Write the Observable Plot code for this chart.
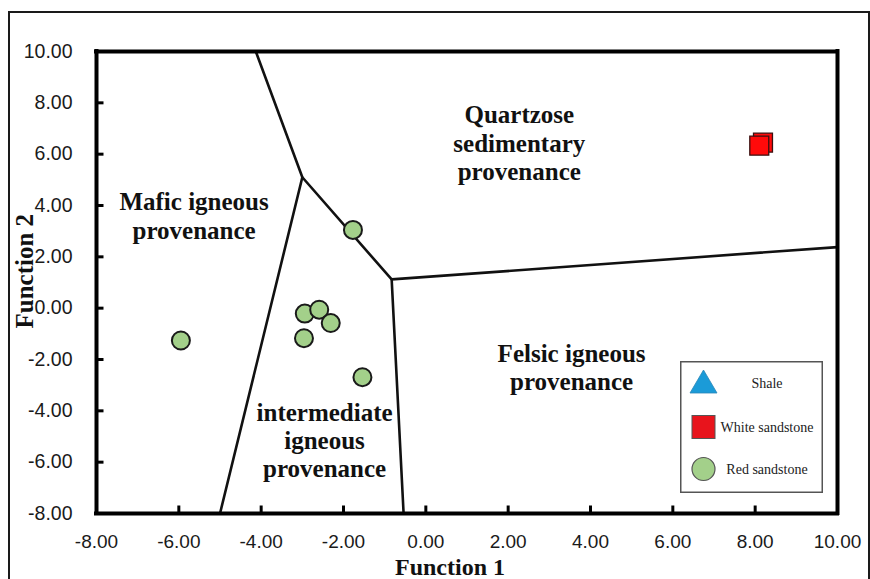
<!DOCTYPE html>
<html>
<head>
<meta charset="utf-8">
<script src="https://cdn.jsdelivr.net/npm/d3@7"></script>
<script src="https://cdn.jsdelivr.net/npm/@observablehq/plot@0.6"></script>
<style>
  body { margin: 0; background: #fff; }
  #wrap { position: relative; width: 870px; height: 579px; overflow: hidden; background: #fff; }
  #outer { position: absolute; left: 8px; top: 11px; width: 858px; height: 600px; border: 2px solid #1a1a1a; pointer-events: none; }
  #legend { position: absolute; left: 680px; top: 361px; }
</style>
</head>
<body>
<div id="wrap">
  <div id="chart"></div>
  <div id="outer"></div>
  <div id="legend"></div>
</div>
<script>
// ---- Data ----
const xTicks = [-8, -6, -4, -2, 0, 2, 4, 6, 8, 10];
const yTicks = [-8, -6, -4, -2, 0, 2, 4, 6, 8, 10];
const xDomain = [-8, 10];
const yDomain = [-8, 10];

// Red sandstone samples (Function 1, Function 2)
const redX = [-5.95, -1.77, -2.94, -2.59, -2.31, -2.96, -1.54];
const redY = [-1.26, 3.05, -0.21, -0.06, -0.58, -1.17, -2.69];

// White sandstone samples
const whiteX = [8.19, 8.10];
const whiteY = [6.45, 6.33];

// Shale samples (none plotted)
const shaleX = [];
const shaleY = [];

// Field boundaries (discriminant diagram)
const boundaryId = ["A", "A", "A", "A", "B", "B", "C", "C"];
const boundaryX = [-4.13, -3.0, -0.83, 10, -5.0, -3.0, -0.83, -0.54];
const boundaryY = [10, 5.1, 1.12, 2.38, -8, 5.1, 1.12, -8];

// Field labels
const fieldLabels = ["Quartzose\nsedimentary\nprovenance", "Mafic igneous\nprovenance", "Felsic igneous\nprovenance", "intermediate\nigneous\nprovenance"];
const fieldLabelX = [2.27, -5.63, 3.54, -2.46];
const fieldLabelY = [6.45, 3.61, -2.28, -5.13];

// Legend
const seriesNames = ["Shale", "White sandstone", "Red sandstone"];
const seriesSymbols = ["triangle", "square", "circle"];
const seriesFill = ["#1b9bd8", "#e8141c", "#a3d08a"];

// ---- Build tables ----
const red = redX.map((x, i) => ({x, y: redY[i]}));
const white = whiteX.map((x, i) => ({x, y: whiteY[i]}));
const shale = shaleX.map((x, i) => ({x, y: shaleY[i]}));
const boundaries = boundaryX.map((x, i) => ({id: boundaryId[i], x, y: boundaryY[i]}));
const labels = fieldLabels.map((t, i) => ({t, x: fieldLabelX[i], y: fieldLabelY[i]}));

const fmt = d => d.toFixed(2);
const serif = "Liberation Serif, Times New Roman, serif";
const sans = "Liberation Sans, Arial, sans-serif";

const W0 = 870, H0 = 579, ML = 96, MR = 33, MT = 51, MB = 66;
const frameW = W0 - ML - MR, frameH = H0 - MT - MB;
const tickLen = 7.5;

const chart = Plot.plot({
  width: W0,
  height: H0,
  marginLeft: ML,
  marginRight: MR,
  marginTop: MT,
  marginBottom: MB,
  x: {domain: xDomain},
  y: {domain: yDomain},
  style: {background: "transparent", color: "#111"},
  marks: [
    Plot.line(boundaries, {x: "x", y: "y", z: "id", stroke: "#111", strokeWidth: 2.6}),
    // inward ticks
    Plot.tickX(xTicks, {x: d => d, insetTop: frameH - tickLen, stroke: "#000", strokeWidth: 3}),
    Plot.tickY(yTicks, {y: d => d, insetRight: frameW - tickLen, stroke: "#000", strokeWidth: 3}),
    // tick labels
    Plot.axisX(xTicks, {tickSize: 0, tickPadding: 21, tickFormat: fmt, fontSize: 19, fontFamily: sans, fill: "#1a1a1a", label: null}),
    Plot.axisY(yTicks, {tickSize: 0, tickPadding: 24, tickFormat: fmt, fontSize: 19.5, fontFamily: sans, fill: "#1a1a1a", label: null}),
    // heavy frame
    Plot.ruleX(xDomain, {stroke: "#000", strokeWidth: 4, strokeLinecap: "square"}),
    Plot.ruleY(yDomain, {stroke: "#000", strokeWidth: 4, strokeLinecap: "square"}),
    Plot.text(labels, {x: "x", y: "y", text: "t", fontFamily: serif, fontWeight: "bold", fontSize: 25, lineHeight: 1.13, fill: "#111"}),
    Plot.dot(red, {x: "x", y: "y", r: 9, symbol: "circle", fill: seriesFill[2], stroke: "#1a1a1a", strokeWidth: 2}),
    Plot.dot(white, {x: "x", y: "y", r: 10.7, symbol: "square", fill: "#ff0a0a", stroke: "#3a1010", strokeWidth: 1.3}),
    Plot.dot(shale, {x: "x", y: "y", r: 10, symbol: "triangle", fill: seriesFill[0]}),
    Plot.text(["Function 1"], {frameAnchor: "bottom", dx: -17, dy: 61.5, fontFamily: serif, fontWeight: "bold", fontSize: 24, fill: "#111"}),
    Plot.text(["Function 2"], {frameAnchor: "left", dx: -72, dy: 46, rotate: -90, fontFamily: serif, fontWeight: "bold", fontSize: 25, fill: "#111"})
  ]
});
document.getElementById("chart").appendChild(chart);

// ---- Legend (overlay) ----
const W = 143, H = 132;
const rowY = [22, 66, 108];
const ns = "http://www.w3.org/2000/svg";
const svg = document.createElementNS(ns, "svg");
svg.setAttribute("width", W);
svg.setAttribute("height", H);
const rect = document.createElementNS(ns, "rect");
rect.setAttribute("x", 0.75); rect.setAttribute("y", 0.75);
rect.setAttribute("width", W - 1.5); rect.setAttribute("height", H - 1.5);
rect.setAttribute("fill", "#fff"); rect.setAttribute("stroke", "#555"); rect.setAttribute("stroke-width", 1.5);
svg.appendChild(rect);
seriesNames.forEach((name, i) => {
  const cx = 23.5, cy = rowY[i];
  let el;
  if (seriesSymbols[i] === "triangle") {
    el = document.createElementNS(ns, "path");
    el.setAttribute("d", `M${cx},${cy - 13}L${cx + 13.5},${cy + 10}L${cx - 13.5},${cy + 10}Z`);
    el.setAttribute("fill", seriesFill[i]);
    el.setAttribute("stroke", "#2a86b8");
    el.setAttribute("stroke-width", 0.8);
  } else if (seriesSymbols[i] === "square") {
    el = document.createElementNS(ns, "rect");
    el.setAttribute("x", cx - 11.5); el.setAttribute("y", cy - 11.5);
    el.setAttribute("width", 23); el.setAttribute("height", 23);
    el.setAttribute("fill", seriesFill[i]);
    el.setAttribute("stroke", "#555");
    el.setAttribute("stroke-width", 1);
  } else {
    el = document.createElementNS(ns, "circle");
    el.setAttribute("cx", cx); el.setAttribute("cy", cy);
    el.setAttribute("r", 11.5);
    el.setAttribute("fill", seriesFill[i]);
    el.setAttribute("stroke", "#555");
    el.setAttribute("stroke-width", 1.2);
  }
  svg.appendChild(el);
  const t = document.createElementNS(ns, "text");
  t.setAttribute("x", 87);
  t.setAttribute("y", cy + 5);
  t.setAttribute("text-anchor", "middle");
  t.setAttribute("font-family", serif);
  t.setAttribute("font-size", 14);
  t.setAttribute("fill", "#222");
  t.textContent = name;
  svg.appendChild(t);
});
document.getElementById("legend").appendChild(svg);
</script>
</body>
</html>
